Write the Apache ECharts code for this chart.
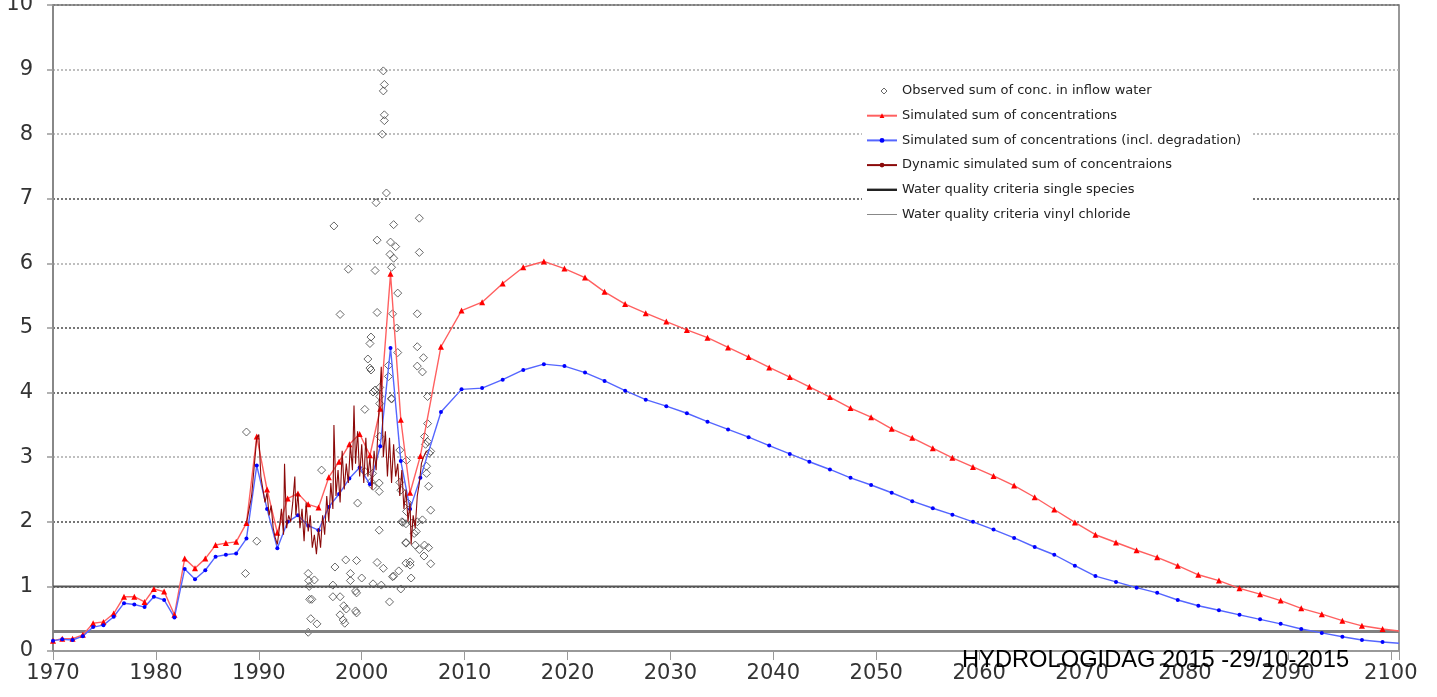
<!DOCTYPE html>
<html><head><meta charset="utf-8">
<script src="https://cdn.jsdelivr.net/npm/echarts/dist/echarts.min.js"></script>
<style>html,body{margin:0;padding:0;background:#fff}#c{width:1437px;height:697px}</style>
</head><body><div id="c"></div>
<script>
// ---------- data ----------
const simYears = [1970.0,1970.9,1971.9,1972.9,1973.9,1974.9,1975.9,1976.9,1977.9,1978.9,
1979.8,1980.8,1981.8,1982.8,1983.8,1984.8,1985.8,1986.8,1987.8,1988.8,
1989.8,1990.8,1991.8,1992.8,1993.8,1994.8,1995.8,1996.8,1997.8,1998.8,
1999.8,2000.8,2001.8,2002.8,2003.8,2004.7,2005.7,2007.7,2009.7,2011.7,
2013.7,2015.7,2017.7,2019.7,2021.7,2023.6,2025.6,2027.6,2029.6,2031.6,
2033.6,2035.6,2037.6,2039.6,2041.6,2043.5,2045.5,2047.5,2049.5,2051.5,
2053.5,2055.5,2057.4,2059.4,2061.4,2063.4,2065.4,2067.3,2069.3,2071.3,
2073.3,2075.3,2077.3,2079.3,2081.3,2083.3,2085.3,2087.3,2089.3,2091.3,
2093.3,2095.3,2097.2,2099.2,2100.8];
const simTotal = [0.16,0.19,0.19,0.25,0.43,0.45,0.58,0.84,0.84,0.76,
0.96,0.92,0.56,1.43,1.28,1.43,1.64,1.67,1.69,1.98,
3.32,2.50,1.83,2.36,2.44,2.27,2.22,2.69,2.93,3.20,
3.36,3.03,3.75,5.84,3.58,2.45,3.02,4.71,5.27,5.40,
5.69,5.94,6.03,5.92,5.78,5.56,5.37,5.23,5.10,4.97,
4.85,4.70,4.55,4.39,4.24,4.09,3.93,3.76,3.62,3.44,
3.30,3.14,2.99,2.85,2.71,2.56,2.38,2.19,1.99,1.80,
1.68,1.56,1.45,1.32,1.18,1.09,0.97,0.88,0.78,0.66,
0.57,0.47,0.39,0.34,0.31];
const simDegraded = [0.16,0.18,0.17,0.23,0.37,0.40,0.53,0.74,0.72,0.68,
0.84,0.79,0.52,1.27,1.11,1.25,1.46,1.49,1.51,1.74,
2.87,2.20,1.59,2.00,2.10,1.94,1.87,2.23,2.43,2.67,
2.84,2.58,3.17,4.69,2.94,2.20,2.68,3.70,4.05,4.07,
4.20,4.35,4.44,4.41,4.31,4.18,4.03,3.89,3.79,3.68,
3.55,3.43,3.31,3.18,3.05,2.93,2.81,2.68,2.57,2.45,
2.32,2.21,2.11,2.00,1.88,1.75,1.61,1.49,1.32,1.16,
1.07,0.98,0.90,0.79,0.70,0.63,0.56,0.49,0.42,0.34,
0.28,0.22,0.17,0.14,0.12];

const dynYears = [1988.8,1989.3,1989.8,1990.0,1990.2,1990.4,1990.6,1990.8,1991.0,1991.2,
1991.4,1991.6,1991.8,1992.0,1992.2,1992.4,1992.5,1992.7,1992.9,1993.1,
1993.3,1993.5,1993.6,1993.8,1994.0,1994.2,1994.4,1994.6,1994.8,1995.0,
1995.2,1995.4,1995.6,1995.8,1996.0,1996.2,1996.4,1996.6,1996.8,1997.0,
1997.2,1997.3,1997.5,1997.7,1997.9,1998.1,1998.3,1998.5,1998.7,1998.9,
1999.1,1999.25,1999.4,1999.6,1999.8,2000.0,2000.2,2000.4,2000.6,2000.8,
2001.0,2001.2,2001.4,2001.6,2001.9,2002.1,2002.3,2002.5,2002.7,2002.9,
2003.1,2003.3,2003.5,2003.7,2003.9,2004.1,2004.3,2004.5,2004.7,2004.8,
2005.0,2005.2,2005.4,2005.6,2005.8,2006.0,2006.3];
const dynValues = [1.98,2.4,3.3,3.35,2.7,2.5,2.3,2.45,2.1,2.25,
1.9,1.75,1.65,1.9,2.2,1.8,2.9,1.9,2.1,2.0,
2.3,2.7,2.1,2.45,1.9,2.2,1.7,2.3,1.85,2.1,
1.6,1.8,1.5,1.9,1.6,2.1,1.8,2.4,2.0,2.6,
2.2,3.5,2.4,2.8,2.3,3.1,2.5,2.9,2.6,3.2,
2.8,3.8,2.9,3.4,2.7,3.2,2.6,3.3,2.7,3.0,
2.5,3.1,2.8,3.5,4.4,3.0,3.4,2.7,3.3,2.6,
3.2,2.7,2.9,2.4,2.8,2.2,2.5,2.0,2.3,1.65,
2.1,1.9,2.4,2.6,2.9,3.0,3.1];

const obsYears = [1988.8,1989.8,1988.7,2002.1,2002.2,2002.1,2002.2,2002.2,2002.0,2002.4,
2001.4,1997.3,2003.1,2005.6,2001.5,2002.8,2003.3,2002.75,2003.1,2005.6,
1998.7,2001.3,2002.9,2003.5,1997.9,2001.5,2003.0,2005.4,2003.4,2000.9,
2000.8,2003.5,2000.6,2005.4,2006.0,2005.4,2005.9,2000.8,2000.9,2002.6,
2002.6,2001.1,2002.9,2000.3,2001.75,2006.4,2001.75,2006.4,2006.1,2006.4,
2006.7,1996.1,2001.7,2001.7,1999.6,2001.7,2004.0,2004.5,2001.3,2001.75,
2002.9,2001.75,2006.2,2006.55,2003.7,2004.35,2006.3,2006.7,2003.9,2004.3,
2005.4,2005.9,2004.3,2005.2,2006.1,2006.5,2005.6,2006.05,2006.7,1998.45,
1999.5,1997.4,1998.9,2000.0,2001.5,2002.1,2003.0,2003.6,2004.3,2004.7,
2004.8,2003.8,2002.7,2001.1,1999.4,1999.5,1998.9,1997.2,1997.2,1997.9,
1998.25,1998.5,1997.9,1998.2,1998.35,1999.4,1999.5,2003.1,1994.8,1994.85,
1995.4,1994.9,1994.95,1995.15,1995.05,1995.65,1994.8,2001.9,2004.9,2005.3,
2005.1,2004.3,2004.7,2003.8,2003.7,2004.35,2006.5,2006.3,2000.3,2001.05,
2001.1,2000.9];
const obsValues = [3.39,1.70,1.20,8.98,8.77,8.67,8.30,8.21,8.00,7.09,
6.94,6.58,6.60,6.70,6.36,6.33,6.26,6.14,6.08,6.17,
5.91,5.89,5.94,5.54,5.21,5.24,5.22,5.22,5.00,4.86,
4.76,4.62,4.52,4.71,4.54,4.41,4.32,4.38,4.35,4.42,
4.25,4.01,3.90,3.74,3.94,3.94,3.83,3.52,3.32,3.24,
3.09,2.80,2.60,2.47,2.29,1.87,1.99,2.29,4.04,4.08,
3.91,3.32,3.20,3.06,3.11,2.95,2.75,2.18,2.00,1.97,
2.00,2.03,1.67,1.64,1.64,1.60,1.57,1.47,1.35,1.41,
1.40,1.30,1.20,1.13,1.37,1.28,1.15,1.24,1.36,1.33,
1.13,0.96,0.76,1.04,0.93,0.90,1.09,1.02,0.84,0.84,
0.70,0.65,0.56,0.48,0.43,0.62,0.59,1.16,1.20,1.09,
1.10,1.00,0.80,0.80,0.50,0.42,0.29,1.02,1.98,1.85,
1.82,1.68,1.38,2.49,2.61,2.16,2.55,2.86,2.78,2.75,
2.55,2.62];

const criteriaSingle = 1.0;
const criteriaVinyl = 0.3;
const xRange = [1970, 2100.8];
const seriesNames = [
  'Observed sum of conc. in inflow water',
  'Simulated sum of concentrations',
  'Simulated sum of concentrations (incl. degradation)',
  'Dynamic simulated sum of concentraions',
  'Water quality criteria single species',
  'Water quality criteria vinyl chloride'
];
const footerText = 'HYDROLOGIDAG 2015 -29/10-2015';

// ---------- chart ----------
const chart = echarts.init(document.getElementById('c'), null, {renderer: 'canvas'});
const pairs = (xs, ys) => xs.map((x, i) => [x, ys[i]]);
const simPairs = (ys) => simYears.map((x, i) => i === simYears.length - 1 ? {value: [x, ys[i]], symbol: 'none'} : [x, ys[i]]);

const dark = '#4a4a4a', light = '#aaa';
const gridColors = ['#999', dark, dark, light, dark, dark, light, dark, light, light, '#777'];

chart.setOption({
  animation: false,
  backgroundColor: '#fff',
  textStyle: {fontFamily: 'DejaVu Sans'},
  grid: {left: 53, right: 38, top: 5, bottom: 46, show: true, borderColor: '#777', borderWidth: 1.5, backgroundColor: 'transparent', containLabel: false, outerBoundsMode: 'none'},
  legend: {
    orient: 'vertical', left: 862, top: 78,
    backgroundColor: '#fff', padding: [6, 10, 6, 4],
    itemWidth: 30, itemHeight: 6, itemGap: 10.7,
    selectedMode: false,
    textStyle: {fontFamily: 'DejaVu Sans', fontSize: 13, color: '#222', lineHeight: 14},
    data: [
      {name: seriesNames[0], icon: 'path://M0,0M30,6M17,0L20,3L17,6L14,3Z', itemStyle: {color: '#fff', borderColor: '#444', borderWidth: 1}},
      {name: seriesNames[1]},
      {name: seriesNames[2]},
      {name: seriesNames[3]},
      {name: seriesNames[4], icon: 'path://M0,0M30,6M0,1.8L30,1.8L30,4.2L0,4.2Z', itemStyle: {color: '#222'}},
      {name: seriesNames[5], icon: 'path://M0,0M30,6M0,2.5L30,2.5L30,3.5L0,3.5Z', itemStyle: {color: '#888'}}
    ]
  },
  xAxis: {
    type: 'value', min: xRange[0], max: xRange[1], interval: 10,
    axisLine: {show: true, lineStyle: {color: '#999', width: 1}},
    axisTick: {show: true, length: 9, lineStyle: {color: '#999', width: 1}},
    axisLabel: {fontSize: 21, color: '#333', fontFamily: 'DejaVu Sans', margin: 12,
      formatter: v => (Math.abs(v % 10) < 1e-6 ? String(Math.round(v)) : '')},
    splitLine: {show: false}
  },
  yAxis: {
    type: 'value', min: 0, max: 10, interval: 1,
    axisLine: {show: true, lineStyle: {color: '#888', width: 2}},
    axisTick: {show: true, length: 6, lineStyle: {color: '#999', width: 1.5}},
    axisLabel: {fontSize: 21, color: '#333', fontFamily: 'DejaVu Sans', margin: 20},
    splitLine: {show: true, lineStyle: {color: gridColors, type: [2, 2], width: 1.5}}
  },
  graphic: [{
    type: 'text', left: 962, top: 648, z: 100,
    style: {text: footerText, font: '23.7px "Liberation Sans"', fill: '#000'}
  }],
  series: [
    {
      name: seriesNames[0], type: 'scatter', symbol: 'diamond', symbolSize: 8,
      itemStyle: {color: 'rgba(255,255,255,0)', borderColor: '#444', borderWidth: 1},
      data: pairs(obsYears, obsValues), z: 2
    },
    {
      name: seriesNames[4], type: 'line', symbol: 'none',
      lineStyle: {color: '#555', width: 2}, itemStyle: {color: '#222'},
      data: [[xRange[0], criteriaSingle], [xRange[1], criteriaSingle]], z: 3
    },
    {
      name: seriesNames[5], type: 'line', symbol: 'none',
      lineStyle: {color: '#808080', width: 3}, itemStyle: {color: '#888'},
      data: [[xRange[0], criteriaVinyl], [xRange[1], criteriaVinyl]], z: 3
    },
    {
      name: seriesNames[1], type: 'line', symbol: 'triangle', symbolSize: 6,
      lineStyle: {color: '#ff6060', width: 1.4}, itemStyle: {color: '#ff0000'},
      data: simPairs(simTotal), z: 4
    },
    {
      name: seriesNames[2], type: 'line', symbol: 'circle', symbolSize: 4,
      lineStyle: {color: '#5566ff', width: 1.4}, itemStyle: {color: '#0000ff'},
      data: simPairs(simDegraded), z: 4
    },
    {
      name: seriesNames[3], type: 'line', symbol: 'circle', symbolSize: 2, showSymbol: false,
      lineStyle: {color: '#8b0a0a', width: 1.1}, itemStyle: {color: '#8b0a0a'},
      data: pairs(dynYears, dynValues), z: 5
    }
  ]
});
</script>
</body></html>
